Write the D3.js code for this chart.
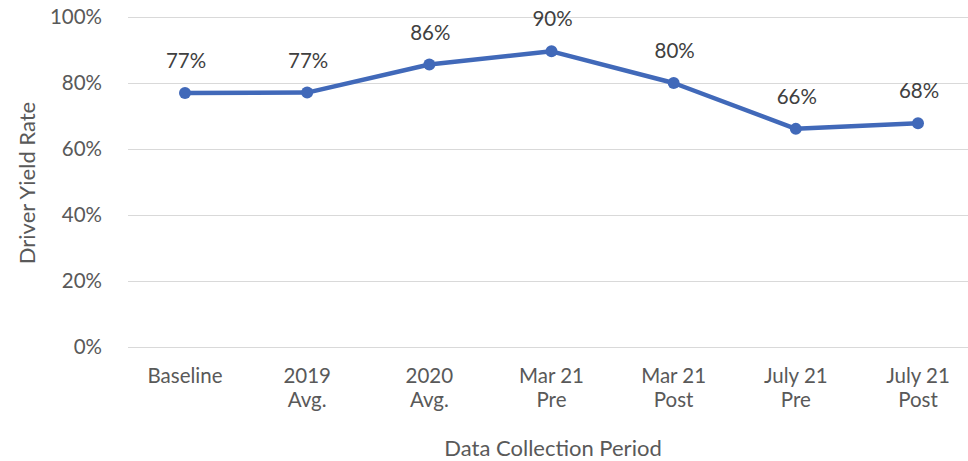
<!DOCTYPE html>
<html>
<head>
<meta charset="utf-8">
<script src="https://cdn.jsdelivr.net/npm/d3@7/dist/d3.min.js"></script>
<style>
  html, body { margin: 0; padding: 0; background: #fff; }
  svg { display: block; }
  text { font-family: Lato, "Noto Sans", sans-serif; fill: #595959; }
</style>
</head>
<body>
<svg id="chart" width="968" height="461"></svg>
<script>
const categories = [["Baseline"], ["2019", "Avg."], ["2020", "Avg."], ["Mar 21", "Pre"], ["Mar 21", "Post"], ["July 21", "Pre"], ["July 21", "Post"]];
const values = [0.77, 0.771, 0.856, 0.896, 0.80, 0.661, 0.678];
const yTicks = [0, 0.2, 0.4, 0.6, 0.8, 1.0];

const svg = d3.select("#chart");
const plot = { left: 128, right: 968, top: 17, bottom: 347 };

const keys = categories.map(c => c.join(" "));
const x = d3.scalePoint().domain(keys).range([185, 918]);
const y = d3.scaleLinear().domain([0, 1]).range([plot.bottom, plot.top]);
const fmt = d3.format(".0%");

// gridlines
svg.append("g").selectAll("line").data(yTicks).join("line")
  .attr("x1", plot.left).attr("x2", plot.right)
  .attr("y1", d => Math.round(y(d)) + 0.5).attr("y2", d => Math.round(y(d)) + 0.5)
  .attr("stroke", "#d9d9d9").attr("stroke-width", 1);

// y axis labels
const yAxis = d3.axisLeft(y).tickValues(yTicks).tickFormat(fmt).tickSize(0).tickPadding(0);
const gy = svg.append("g").attr("transform", "translate(102,0)").call(yAxis);
gy.select(".domain").remove();
gy.selectAll("text").attr("font-size", 20.5).style("fill", "#595959")
  .style("font-family", 'Lato, "Noto Sans", sans-serif');

// x axis labels (multi-line, one text per line)
const gx = svg.append("g");
categories.forEach((c, i) => {
  c.forEach((line, j) => {
    gx.append("text").attr("x", x(keys[i])).attr("y", 383 + j * 24)
      .attr("text-anchor", "middle").attr("font-size", 20.5).text(line);
  });
});

// axis titles
svg.append("text").attr("x", 553).attr("y", 456).attr("text-anchor", "middle")
  .attr("font-size", 22).text("Data Collection Period");
svg.append("text").attr("transform", "translate(35,183) rotate(-90)")
  .attr("text-anchor", "middle").attr("font-size", 22).text("Driver Yield Rate");

// line
const line = d3.line().x((d, i) => x(keys[i])).y(d => y(d));
svg.append("path").datum(values).attr("d", line)
  .attr("fill", "none").attr("stroke", "#4169b9").attr("stroke-width", 4.5)
  .attr("stroke-linejoin", "round").attr("stroke-linecap", "round");

svg.append("g").selectAll("circle").data(values).join("circle")
  .attr("cx", (d, i) => x(keys[i])).attr("cy", d => y(d)).attr("r", 6)
  .attr("fill", "#4169b9");

// data labels
svg.append("g").selectAll("text").data(values).join("text")
  .attr("x", (d, i) => x(keys[i]) + 1).attr("y", d => y(d) - 25)
  .attr("text-anchor", "middle").attr("font-size", 20.5)
  .style("fill", "#404040")
  .text(d => fmt(d));
</script>
</body>
</html>
